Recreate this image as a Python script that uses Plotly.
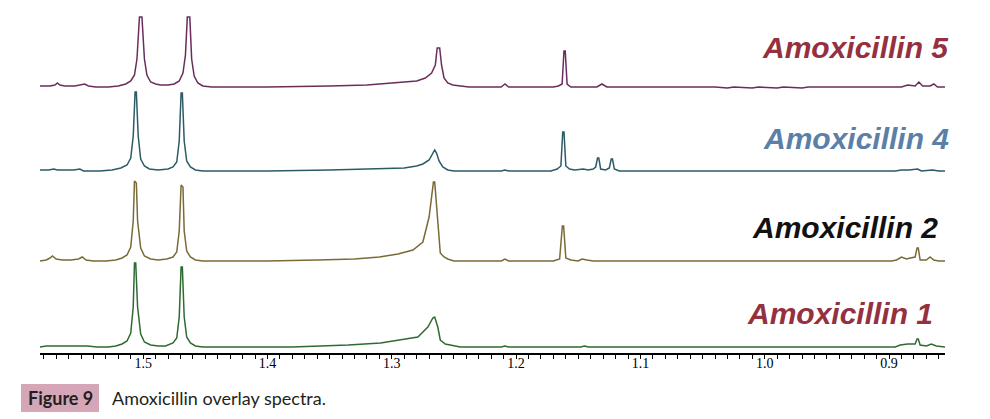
import plotly.graph_objects as go

# ---------------- data (ppm, intensity in arbitrary units) ----------------
amox5_ppm = [1.583, 1.575, 1.571, 1.569, 1.567, 1.563, 1.555, 1.549, 1.547, 1.544, 1.538, 1.528,
             1.520, 1.514, 1.510, 1.507, 1.505, 1.503, 1.501, 1.499, 1.497, 1.494, 1.490, 1.486,
             1.480, 1.475, 1.471, 1.468, 1.466, 1.4645, 1.4625, 1.461, 1.459, 1.456, 1.452, 1.445,
             1.40, 1.35, 1.32, 1.30, 1.29, 1.28, 1.273, 1.268, 1.265, 1.2635, 1.2615, 1.260, 1.258,
             1.255, 1.251, 1.245, 1.238, 1.212, 1.209, 1.206, 1.170, 1.166, 1.163, 1.1615, 1.1605,
             1.159, 1.156, 1.135, 1.131, 1.127, 1.040, 1.030, 1.025, 1.010, 1.005, 0.990, 0.985,
             0.970, 0.965, 0.890, 0.885, 0.879, 0.876, 0.873, 0.867, 0.864, 0.861, 0.855]
amox5_int = [1, 1, 2, 4, 2, 1, 1, 2, 3, 1, 0, 0,
             1, 3, 6, 12, 28, 70, 70, 28, 12, 5, 3, 2,
             2, 3, 6, 14, 32, 70, 70, 28, 11, 4, 1, 0,
             0, 1, 2, 4, 5, 6, 9, 14, 22, 39, 39, 22, 9,
             4, 2, 1, 0, 0, 3, 0, 0, 1, 3, 36, 36,
             3, 0, 0, 3, 0, 0, -1, 0, -1, 0, -1, 0,
             -1, 0, 0, 2, 1, 5, 1, 1, 3, 0, 0]

amox4_ppm = [1.583, 1.576, 1.572, 1.569, 1.556, 1.551, 1.548, 1.535, 1.525, 1.518, 1.513, 1.510,
             1.508, 1.5065, 1.5055, 1.504, 1.502, 1.499, 1.495, 1.488, 1.480, 1.476, 1.473, 1.471,
             1.4695, 1.4685, 1.467, 1.465, 1.462, 1.458, 1.452, 1.40, 1.35, 1.31, 1.29, 1.28,
             1.275, 1.270, 1.267, 1.2655, 1.264, 1.262, 1.259, 1.255, 1.250, 1.212, 1.209, 1.206,
             1.172, 1.167, 1.164, 1.1625, 1.1615, 1.160, 1.157, 1.153, 1.146, 1.142, 1.138, 1.136,
             1.1345, 1.1335, 1.132, 1.128, 1.125, 1.1235, 1.1225, 1.121, 1.117, 0.895, 0.890,
             0.884, 0.877, 0.874, 0.865, 0.860, 0.855]
amox4_int = [1, 1, 2, 1, 1, 2, 0, 0, 1, 3, 6, 13,
             35, 79, 79, 35, 12, 5, 2, 1, 2, 4, 9, 30,
             78, 78, 30, 10, 4, 1, 0, 0, 1, 2, 3, 5,
             7, 11, 17, 21, 18, 10, 4, 1, 0, 0, 1, 0,
             0, 2, 5, 39, 39, 5, 2, 1, 2, 1, 2, 4,
             13, 13, 2, 1, 3, 12, 12, 2, 0, 0, 1,
             1, 2, 0, 1, 0, 0]

amox2_ppm = [1.583, 1.578, 1.575, 1.573, 1.570, 1.565, 1.558, 1.552, 1.549, 1.546, 1.540, 1.530,
             1.522, 1.517, 1.513, 1.510, 1.508, 1.507, 1.5055, 1.5045, 1.502, 1.499, 1.494, 1.488,
             1.481, 1.476, 1.473, 1.471, 1.4695, 1.468, 1.467, 1.465, 1.462, 1.458, 1.452, 1.40,
             1.36, 1.33, 1.31, 1.295, 1.283, 1.275, 1.270, 1.2665, 1.2655, 1.263, 1.261, 1.258,
             1.255, 1.250, 1.212, 1.209, 1.206, 1.170, 1.165, 1.1628, 1.1618, 1.160, 1.156, 1.150,
             1.147, 1.143, 1.138, 0.898, 0.894, 0.890, 0.886, 0.883, 0.879, 0.8775, 0.8765, 0.875,
             0.870, 0.867, 0.864, 0.860, 0.855]
amox2_int = [0, 1, 3, 5, 2, 1, 1, 2, 4, 1, 0, 0,
             1, 3, 6, 14, 40, 80, 78, 40, 13, 5, 2, 1,
             2, 4, 9, 30, 76, 74, 30, 10, 4, 1, 0, 0,
             1, 2, 4, 7, 11, 19, 44, 79, 79, 34, 8, 4,
             2, 0, 0, 2, 0, 0, 2, 35, 35, 3, 1, 0,
             2, 1, 0, 0, 1, 4, 2, 3, 4, 13, 13, 1,
             1, 4, 1, 0, 0]

amox1_ppm = [1.583, 1.578, 1.560, 1.545, 1.537, 1.528, 1.522, 1.517, 1.513, 1.510, 1.508, 1.507,
             1.506, 1.5045, 1.502, 1.499, 1.494, 1.488, 1.482, 1.476, 1.473, 1.471, 1.4695, 1.4685,
             1.467, 1.465, 1.462, 1.458, 1.452, 1.38, 1.335, 1.309, 1.289, 1.279, 1.271, 1.267,
             1.2655, 1.263, 1.261, 1.257, 1.253, 1.245, 1.212, 1.209, 1.206, 1.148, 1.145, 1.142,
             0.895, 0.891, 0.885, 0.879, 0.8775, 0.8765, 0.875, 0.870, 0.866, 0.862, 0.855]
amox1_int = [0, 1, 1, 1, 0, 0, 1, 3, 6, 14, 40, 84,
             84, 40, 13, 5, 2, 1, 1, 4, 9, 30, 80, 80,
             30, 10, 4, 1, 0, 0, 2, 4, 8, 10, 20, 29,
             30, 20, 7, 3, 2, 0, 0, 1, 0, 0, 1, 0,
             0, 2, 3, 3, 8, 8, 2, 1, 3, 1, 0]

series_names = ["Amoxicillin 5", "Amoxicillin 4", "Amoxicillin 2", "Amoxicillin 1"]
tick_values = [1.5, 1.4, 1.3, 1.2, 1.1, 1.0, 0.9]
tick_labels = ["1.5", "1.4", "1.3", "1.2", "1.1", "1.0", "0.9"]

# ---------------- styling / layout ----------------
W, H = 990, 419
OFF = 8  # page body margin offset
ML, MR, MT, MB = 40 - OFF, 990 - 945 + OFF, 10 - OFF, 419 - 353 + OFF
plot_w = W - ML - MR
plot_h = H - MT - MB


def px_x(x):
    return (x - OFF - ML) / plot_w


def px_y(y):
    return (H - MB - (y - OFF)) / plot_h


spectra = [
    (amox5_ppm, amox5_int, 266, "#6a2d5b", "#953040", 48, 951),
    (amox4_ppm, amox4_int, 182, "#2c5b66", "#5b80a8", 138, 951),
    (amox2_ppm, amox2_int, 92, "#7a6a36", "#111111", 227, 940),
    (amox1_ppm, amox1_int, 6, "#2f6a33", "#953040", 313, 935),
]

fig = go.Figure()
annotations = []
for (ppm, inten, offset, lc, tc, ly, lx), name in zip(spectra, series_names):
    fig.add_trace(go.Scatter(
        x=ppm, y=[v + offset for v in inten], mode="lines", name=name,
        line=dict(color=lc, width=1.5), showlegend=False, hoverinfo="skip"))
    annotations.append(dict(
        text=f"<b><i>{name}</i></b>", xref="paper", yref="paper",
        x=px_x(lx), y=px_y(ly), xanchor="right", yanchor="middle", showarrow=False,
        font=dict(family="Liberation Sans, Arial, sans-serif", size=30, color=tc)))

# caption
annotations.append(dict(
    text="<b>Figure 9</b>", xref="paper", yref="paper",
    x=px_x(60), y=px_y(398),
    xanchor="center", yanchor="middle", showarrow=False,
    font=dict(family="Lato, Open Sans, sans-serif", size=18, color="#231f20")))
annotations.append(dict(
    text="Amoxicillin overlay spectra.", xref="paper", yref="paper",
    x=px_x(110), y=px_y(398),
    xanchor="left", yanchor="middle", showarrow=False,
    font=dict(family="Lato, Open Sans, sans-serif", size=18, color="#231f20")))

fig.update_layout(
    width=W, height=H,
    margin=dict(l=ML, r=MR, t=MT, b=MB),
    paper_bgcolor="white", plot_bgcolor="white",
    annotations=annotations,
    shapes=[dict(type="rect", xref="paper", yref="paper",
                 x0=px_x(21), x1=px_x(99),
                 y0=px_y(412), y1=px_y(384),
                 fillcolor="#d4a6b8", line=dict(width=0), layer="below")],
    xaxis=dict(
        range=[1.583, 0.855], showgrid=False, zeroline=False,
        showline=True, linecolor="black", linewidth=2,
        ticks="outside", ticklen=4, tickwidth=1, tickcolor="black",
        tickvals=tick_values, ticktext=tick_labels, ticklabelstandoff=-8,
        minor=dict(dtick=0.01, tick0=0, ticks="outside", ticklen=4, tickwidth=1,
                   tickcolor="black", showgrid=False),
        tickfont=dict(family="Liberation Serif, Times New Roman, serif", size=14, color="black"),
    ),
    yaxis=dict(range=[0, plot_h], visible=False, showgrid=False, zeroline=False),
)

fig.write_html("out.html")
